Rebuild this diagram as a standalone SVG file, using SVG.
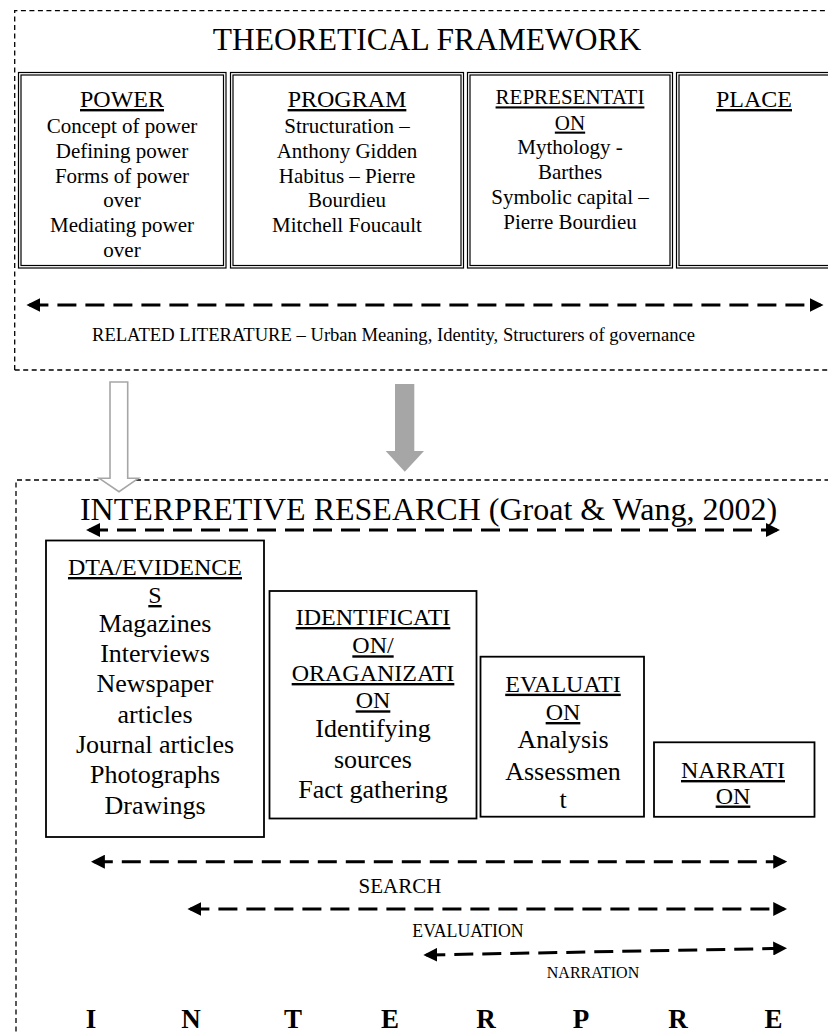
<svg xmlns="http://www.w3.org/2000/svg" width="828" height="1034" viewBox="0 0 828 1034">
<style>
text{font-family:"Liberation Serif","Times New Roman",serif;fill:#000}
.c{text-anchor:middle}
.u{text-decoration:underline}
.frame{fill:none;stroke:#000;stroke-width:1.3;stroke-dasharray:5 3.5}
.tb{fill:none;stroke:#000;stroke-width:1.2}
.bb{fill:#fff;stroke:#000;stroke-width:1.8}
.arr{fill:none;stroke:#000;stroke-width:3;stroke-dasharray:19 9;marker-start:url(#ah);marker-end:url(#ah)}
.h24{font-size:24px}
.b21{font-size:21px}
.b26{font-size:26px}
</style>
<defs>
<marker id="ah" viewBox="0 0 10 10" refX="7.9" refY="5" markerWidth="14" markerHeight="14" markerUnits="userSpaceOnUse" orient="auto-start-reverse">
<path d="M0,0 L10,5 L0,10 z" fill="#000"/>
</marker>
</defs>
<rect width="828" height="1034" fill="#fff"/>

<g id="theoretical-framework">
<path class="frame" d="M14.7,370 L14.7,10.7 L830,10.7 M14.7,370 L830,370"/>
<text class="c" x="427" y="50" font-size="31.5">THEORETICAL FRAMEWORK</text>
</g>

<g id="power">
<rect class="tb" x="18.5" y="72.5" width="207.5" height="195.5"/>
<rect class="tb" x="21" y="75" width="202.5" height="190.5"/>
<text class="c h24 u" x="122" y="107">POWER</text>
<text class="c b21" x="122" y="133">Concept of power</text>
<text class="c b21" x="122" y="157.6">Defining power</text>
<text class="c b21" x="122" y="182.8">Forms of power</text>
<text class="c b21" x="122" y="207">over</text>
<text class="c b21" x="122" y="232">Mediating power</text>
<text class="c b21" x="122" y="256.6">over</text>
</g>

<g id="program">
<rect class="tb" x="230.5" y="72.5" width="233" height="195.5"/>
<rect class="tb" x="233" y="75" width="228" height="190.5"/>
<text class="c h24 u" x="347" y="107">PROGRAM</text>
<text class="c b21" x="347" y="133">Structuration –</text>
<text class="c b21" x="347" y="157.6">Anthony Gidden</text>
<text class="c b21" x="347" y="182.8">Habitus – Pierre</text>
<text class="c b21" x="347" y="207">Bourdieu</text>
<text class="c b21" x="347" y="232">Mitchell Foucault</text>
</g>

<g id="representation">
<rect class="tb" x="467.5" y="72.5" width="205" height="195.5"/>
<rect class="tb" x="470" y="75" width="200" height="190.5"/>
<text class="c b21 u" x="570" y="104.4">REPRESENTATI</text>
<text class="c b21 u" x="570" y="129.6">ON</text>
<text class="c b21" x="570" y="154">Mythology -</text>
<text class="c b21" x="570" y="178.5">Barthes</text>
<text class="c b21" x="570" y="203.7">Symbolic capital –</text>
<text class="c b21" x="570" y="229">Pierre Bourdieu</text>
</g>

<g id="place">
<rect class="tb" x="676.5" y="72.5" width="170" height="195.5"/>
<rect class="tb" x="679" y="75" width="165" height="190.5"/>
<text class="c h24 u" x="754" y="107">PLACE</text>
</g>

<g id="related-literature">
<text x="92" y="341" font-size="18.6">RELATED LITERATURE – Urban Meaning, Identity, Structurers of governance</text>
</g>

<g id="interpretive-research">
<path class="frame" d="M16,1040 L16,480 L830,480"/>
<text class="c" x="428.5" y="520" font-size="32">INTERPRETIVE RESEARCH (Groat &amp; Wang, 2002)</text>
</g>

<g id="data-evidences">
<rect class="bb" x="46" y="540.5" width="218" height="296.5"/>
<text class="c h24 u" x="155" y="575">DTA/EVIDENCE</text>
<text class="c h24 u" x="155" y="603">S</text>
<text class="c b26" x="155" y="632">Magazines</text>
<text class="c b26" x="155" y="662">Interviews</text>
<text class="c b26" x="155" y="692">Newspaper</text>
<text class="c b26" x="155" y="722.5">articles</text>
<text class="c b26" x="155" y="752.7">Journal articles</text>
<text class="c b26" x="155" y="783">Photographs</text>
<text class="c b26" x="155" y="814">Drawings</text>
</g>

<g id="identification-organization">
<rect class="bb" x="269.5" y="591" width="207" height="227.5"/>
<text class="c h24 u" x="373" y="625">IDENTIFICATI</text>
<text class="c h24 u" x="373" y="653.3">ON/</text>
<text class="c h24 u" x="373" y="681">ORAGANIZATI</text>
<text class="c h24 u" x="373" y="708.3">ON</text>
<text class="c b26" x="373" y="737">Identifying</text>
<text class="c b26" x="373" y="767.5">sources</text>
<text class="c b26" x="373" y="798">Fact gathering</text>
</g>

<g id="evaluation-box">
<rect class="bb" x="480.5" y="656.7" width="163.5" height="160"/>
<text class="c h24 u" x="563" y="691.7">EVALUATI</text>
<text class="c h24 u" x="563" y="720">ON</text>
<text class="c b26" x="563" y="748.3">Analysis</text>
<text class="c b26" x="563" y="779.5">Assessmen</text>
<text class="c b26" x="563" y="808">t</text>
</g>

<g id="narration-box">
<rect class="bb" x="654" y="742.3" width="160.5" height="74.5"/>
<text class="c h24 u" x="733" y="778">NARRATI</text>
<text class="c h24 u" x="733" y="803.5">ON</text>
</g>

<g id="connectors">
<line class="arr" x1="29.4" y1="305" x2="820.6" y2="305"/>
<path d="M110,382 L127.7,382 L127.7,478.3 L138.3,478.3 L119,491.7 L99.3,478.3 L110,478.3 Z" fill="#fff" stroke="#a6a6a6" stroke-width="1.6"/>
<path d="M395,384 L414.3,384 L414.3,451 L424,451 L404.8,471.7 L385.7,451 L395,451 Z" fill="#a6a6a6"/>
<line class="arr" x1="89" y1="530" x2="777" y2="530"/>
<line class="arr" x1="93.8" y1="861.7" x2="784.3" y2="861.7"/>
<line class="arr" x1="190.4" y1="909" x2="784.3" y2="909"/>
<line class="arr" x1="426.3" y1="955" x2="784.3" y2="948.3"/>
</g>

<g id="phase-labels">
<text class="c" x="400" y="893.3" font-size="21">SEARCH</text>
<text class="c" x="468" y="937.3" font-size="17.8">EVALUATION</text>
<text class="c" x="593" y="978.3" font-size="16">NARRATION</text>
</g>

<g id="interpretation-letters" font-weight="bold" font-size="27">
<text class="c" x="91" y="1028">I</text>
<text class="c" x="191" y="1028">N</text>
<text class="c" x="293" y="1028">T</text>
<text class="c" x="390" y="1028">E</text>
<text class="c" x="486" y="1028">R</text>
<text class="c" x="581" y="1028">P</text>
<text class="c" x="678" y="1028">R</text>
<text class="c" x="773.5" y="1028">E</text>
</g>
</svg>
